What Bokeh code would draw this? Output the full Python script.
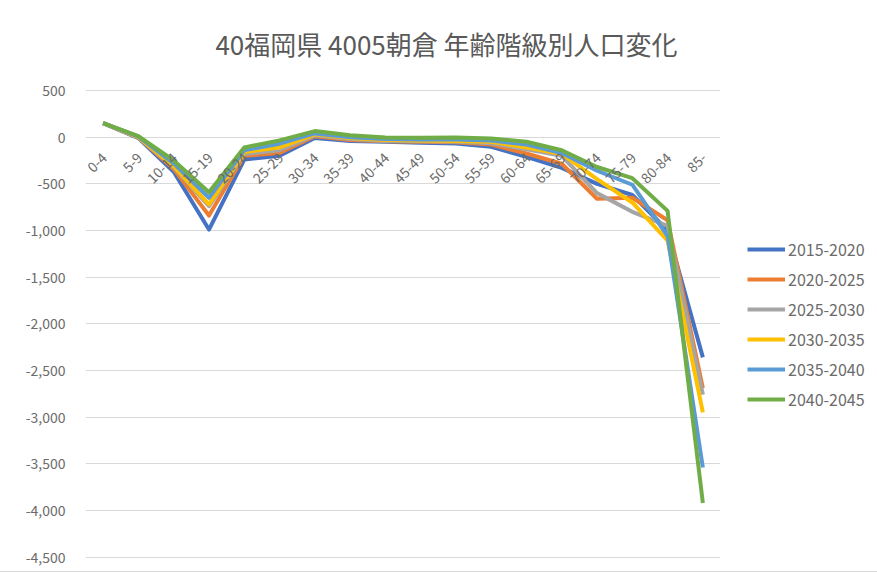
from bokeh.plotting import figure
from bokeh.models import FactorRange, Range1d, FixedTicker, NumeralTickFormatter, Legend, LegendItem, Label
from bokeh.core.properties import value
from bokeh.embed import file_html
from bokeh.resources import INLINE

title_text = "40福岡県 4005朝倉 年齢階級別人口変化"
cats = ["0-4", "5-9", "10-14", "15-19", "20-24", "25-29", "30-34", "35-39", "40-44",
        "45-49", "50-54", "55-59", "60-64", "65-69", "70-74", "75-79", "80-84", "85-"]
series_names = ["2015-2020", "2020-2025", "2025-2030", "2030-2035", "2035-2040", "2040-2045"]
s2015 = [150, -10, -370, -990, -240, -200, -10, -40, -50, -60, -68, -104, -211, -330, -500, -620, -1000, -2360]
s2020 = [150, -5, -340, -840, -200, -170, 10, -30, -45, -50, -55, -80, -175, -285, -660, -650, -890, -2690]
s2025 = [150, -5, -320, -740, -180, -140, 20, -20, -40, -45, -50, -65, -130, -200, -600, -800, -950, -2760]
s2030 = [150, 0, -310, -720, -160, -110, 30, -10, -30, -35, -40, -50, -110, -180, -450, -700, -1110, -2950]
s2035 = [150, 5, -280, -650, -140, -70, 40, 0, -20, -25, -25, -35, -80, -170, -360, -510, -1060, -3540]
s2040 = [150, 10, -250, -590, -110, -35, 65, 20, -5, -7, -3, -14, -50, -140, -320, -440, -790, -3920]
y_ticks = [500, 0, -500, -1000, -1500, -2000, -2500, -3000, -3500, -4000, -4500]
colors = ["#4472C4", "#ED7D31", "#A5A5A5", "#FFC000", "#5B9BD5", "#70AD47"]

font = value("Noto Sans CJK JP")
txt_color = "#6b6b6b"

# layout: 481 px of frame cover -4655..500; extend frame 90 px above for the title
PX_PER_UNIT = 481 / (500 + 4655)
y_top = 500 + 90 / PX_PER_UNIT

p = figure(x_range=FactorRange(*cats), y_range=Range1d(-4655, y_top),
           frame_width=635, frame_height=571,
           min_border_left=85, min_border_right=156, min_border_top=0, min_border_bottom=0,
           output_backend="svg", toolbar_location=None,
           background_fill_color="white", border_fill_color="white")
p.styles = {"outline": "1px solid #d9d9d9"}
p.outline_line_color = None

title_y = y_top - 43 / PX_PER_UNIT
title_x = 361 / 635 * len(cats)
p.add_layout(Label(x=title_x, y=title_y, text=title_text, text_align="center",
                   text_baseline="middle", text_font_size="26px", text_font="Noto Sans CJK JP",
                   text_color="#595959"), "center")

p.xaxis.visible = False
p.xgrid.grid_line_color = None
p.ygrid.grid_line_color = "#d9d9d9"
p.ygrid.grid_line_width = 1
p.ygrid.ticker = FixedTicker(ticks=y_ticks)
p.yaxis.ticker = FixedTicker(ticks=y_ticks)
p.yaxis.formatter = NumeralTickFormatter(format="0,0")
p.yaxis.axis_line_color = None
p.yaxis.major_tick_line_color = None
p.yaxis.minor_tick_line_color = None
p.yaxis.major_label_standoff = 14
p.yaxis.major_label_text_font_size = "14px"
p.yaxis.major_label_text_font = "Noto Sans CJK JP"
p.yaxis.major_label_text_color = txt_color

all_series = [s2015, s2020, s2025, s2030, s2035, s2040]
items = []
for name, vals, c in zip(series_names, all_series, colors):
    r = p.line(cats, vals, line_color=c, line_width=4, line_join="round")
    items.append(LegendItem(label=name, renderers=[r]))

p.text(x=cats, y=[0] * len(cats), text=cats, angle=0.785398, text_align="right",
       text_baseline="middle", x_offset=1, y_offset=18, text_font=font,
       text_font_size="14px", text_color=txt_color)

leg = Legend(items=items, location=(27, 160), glyph_width=38, glyph_height=20,
             label_standoff=3, spacing=6, padding=0, margin=0,
             label_text_font_size="16px", label_text_font="Noto Sans CJK JP",
             label_text_color=txt_color, border_line_color=None, background_fill_alpha=0)
p.add_layout(leg, "right")

open("out.html", "w").write(file_html(p, INLINE))
